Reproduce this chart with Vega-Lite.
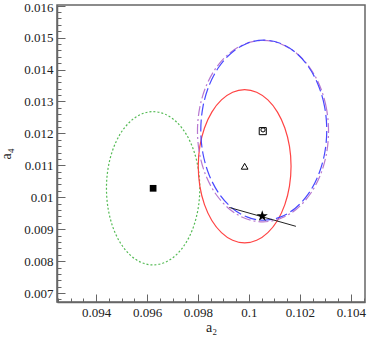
{
  "$schema": "https://vega.github.io/schema/vega-lite/v6.json",
  "width": 308,
  "height": 297,
  "autosize": "none",
  "padding": {"left": 57, "top": 5, "right": 9, "bottom": 54},
  "background": "white",
  "config": {
    "view": {"stroke": "#666", "strokeWidth": 1.5},
    "font": "Liberation Serif, Times New Roman, serif",
    "axis": {"labelFont": "Liberation Serif, Times New Roman, serif", "titleFont": "Liberation Serif, Times New Roman, serif", "labelFontSize": 13, "titleFontSize": 14, "labelColor": "#222", "titleColor": "#222", "domainColor": "#666", "domainWidth": 1.5, "tickColor": "#666", "grid": false, "titleFontWeight": "normal"}
  },
  "datasets": {
    "ell": [
      {"set": "green", "i": 0, "x": 0.09807, "y": 0.01028},
      {"set": "green", "i": 1, "x": 0.098008, "y": 0.010901},
      {"set": "green", "i": 2, "x": 0.097825, "y": 0.01148},
      {"set": "green", "i": 3, "x": 0.097534, "y": 0.011977},
      {"set": "green", "i": 4, "x": 0.097155, "y": 0.012358},
      {"set": "green", "i": 5, "x": 0.096714, "y": 0.012598},
      {"set": "green", "i": 6, "x": 0.09624, "y": 0.01268},
      {"set": "green", "i": 7, "x": 0.095766, "y": 0.012598},
      {"set": "green", "i": 8, "x": 0.095325, "y": 0.012358},
      {"set": "green", "i": 9, "x": 0.094946, "y": 0.011977},
      {"set": "green", "i": 10, "x": 0.094655, "y": 0.01148},
      {"set": "green", "i": 11, "x": 0.094472, "y": 0.010901},
      {"set": "green", "i": 12, "x": 0.09441, "y": 0.01028},
      {"set": "green", "i": 13, "x": 0.094472, "y": 0.009659},
      {"set": "green", "i": 14, "x": 0.094655, "y": 0.00908},
      {"set": "green", "i": 15, "x": 0.094946, "y": 0.008583},
      {"set": "green", "i": 16, "x": 0.095325, "y": 0.008202},
      {"set": "green", "i": 17, "x": 0.095766, "y": 0.007962},
      {"set": "green", "i": 18, "x": 0.09624, "y": 0.00788},
      {"set": "green", "i": 19, "x": 0.096714, "y": 0.007962},
      {"set": "green", "i": 20, "x": 0.097155, "y": 0.008202},
      {"set": "green", "i": 21, "x": 0.097534, "y": 0.008583},
      {"set": "green", "i": 22, "x": 0.097825, "y": 0.00908},
      {"set": "green", "i": 23, "x": 0.098008, "y": 0.009659},
      {"set": "red", "i": 0, "x": 0.10165, "y": 0.01097},
      {"set": "red", "i": 1, "x": 0.101588, "y": 0.011591},
      {"set": "red", "i": 2, "x": 0.101406, "y": 0.01217},
      {"set": "red", "i": 3, "x": 0.101117, "y": 0.012667},
      {"set": "red", "i": 4, "x": 0.10074, "y": 0.013048},
      {"set": "red", "i": 5, "x": 0.100301, "y": 0.013288},
      {"set": "red", "i": 6, "x": 0.09983, "y": 0.01337},
      {"set": "red", "i": 7, "x": 0.099359, "y": 0.013288},
      {"set": "red", "i": 8, "x": 0.09892, "y": 0.013048},
      {"set": "red", "i": 9, "x": 0.098543, "y": 0.012667},
      {"set": "red", "i": 10, "x": 0.098254, "y": 0.01217},
      {"set": "red", "i": 11, "x": 0.098072, "y": 0.011591},
      {"set": "red", "i": 12, "x": 0.09801, "y": 0.01097},
      {"set": "red", "i": 13, "x": 0.098072, "y": 0.010349},
      {"set": "red", "i": 14, "x": 0.098254, "y": 0.00977},
      {"set": "red", "i": 15, "x": 0.098543, "y": 0.009273},
      {"set": "red", "i": 16, "x": 0.09892, "y": 0.008892},
      {"set": "red", "i": 17, "x": 0.099359, "y": 0.008652},
      {"set": "red", "i": 18, "x": 0.09983, "y": 0.00857},
      {"set": "red", "i": 19, "x": 0.100301, "y": 0.008652},
      {"set": "red", "i": 20, "x": 0.10074, "y": 0.008892},
      {"set": "red", "i": 21, "x": 0.101117, "y": 0.009273},
      {"set": "red", "i": 22, "x": 0.101406, "y": 0.00977},
      {"set": "red", "i": 23, "x": 0.101588, "y": 0.010349},
      {"set": "blue", "i": 0, "x": 0.10305, "y": 0.0121},
      {"set": "blue", "i": 1, "x": 0.102966, "y": 0.01283},
      {"set": "blue", "i": 2, "x": 0.102719, "y": 0.01351},
      {"set": "blue", "i": 3, "x": 0.102327, "y": 0.014094},
      {"set": "blue", "i": 4, "x": 0.101815, "y": 0.014542},
      {"set": "blue", "i": 5, "x": 0.101219, "y": 0.014824},
      {"set": "blue", "i": 6, "x": 0.10058, "y": 0.01492},
      {"set": "blue", "i": 7, "x": 0.099941, "y": 0.014824},
      {"set": "blue", "i": 8, "x": 0.099345, "y": 0.014542},
      {"set": "blue", "i": 9, "x": 0.098833, "y": 0.014094},
      {"set": "blue", "i": 10, "x": 0.098441, "y": 0.01351},
      {"set": "blue", "i": 11, "x": 0.098194, "y": 0.01283},
      {"set": "blue", "i": 12, "x": 0.09811, "y": 0.0121},
      {"set": "blue", "i": 13, "x": 0.098194, "y": 0.01137},
      {"set": "blue", "i": 14, "x": 0.098441, "y": 0.01069},
      {"set": "blue", "i": 15, "x": 0.098833, "y": 0.010106},
      {"set": "blue", "i": 16, "x": 0.099345, "y": 0.009658},
      {"set": "blue", "i": 17, "x": 0.099941, "y": 0.009376},
      {"set": "blue", "i": 18, "x": 0.10058, "y": 0.00928},
      {"set": "blue", "i": 19, "x": 0.101219, "y": 0.009376},
      {"set": "blue", "i": 20, "x": 0.101815, "y": 0.009658},
      {"set": "blue", "i": 21, "x": 0.102327, "y": 0.010106},
      {"set": "blue", "i": 22, "x": 0.102719, "y": 0.01069},
      {"set": "blue", "i": 23, "x": 0.102966, "y": 0.01137},
      {"set": "purple", "i": 0, "x": 0.10312, "y": 0.01207},
      {"set": "purple", "i": 1, "x": 0.103032, "y": 0.012805},
      {"set": "purple", "i": 2, "x": 0.102776, "y": 0.01349},
      {"set": "purple", "i": 3, "x": 0.102367, "y": 0.014078},
      {"set": "purple", "i": 4, "x": 0.101835, "y": 0.014529},
      {"set": "purple", "i": 5, "x": 0.101215, "y": 0.014813},
      {"set": "purple", "i": 6, "x": 0.10055, "y": 0.01491},
      {"set": "purple", "i": 7, "x": 0.099885, "y": 0.014813},
      {"set": "purple", "i": 8, "x": 0.099265, "y": 0.014529},
      {"set": "purple", "i": 9, "x": 0.098733, "y": 0.014078},
      {"set": "purple", "i": 10, "x": 0.098324, "y": 0.01349},
      {"set": "purple", "i": 11, "x": 0.098068, "y": 0.012805},
      {"set": "purple", "i": 12, "x": 0.09798, "y": 0.01207},
      {"set": "purple", "i": 13, "x": 0.098068, "y": 0.011335},
      {"set": "purple", "i": 14, "x": 0.098324, "y": 0.01065},
      {"set": "purple", "i": 15, "x": 0.098733, "y": 0.010062},
      {"set": "purple", "i": 16, "x": 0.099265, "y": 0.009611},
      {"set": "purple", "i": 17, "x": 0.099885, "y": 0.009327},
      {"set": "purple", "i": 18, "x": 0.10055, "y": 0.00923},
      {"set": "purple", "i": 19, "x": 0.101215, "y": 0.009327},
      {"set": "purple", "i": 20, "x": 0.101835, "y": 0.009611},
      {"set": "purple", "i": 21, "x": 0.102367, "y": 0.010062},
      {"set": "purple", "i": 22, "x": 0.102776, "y": 0.01065},
      {"set": "purple", "i": 23, "x": 0.103032, "y": 0.011335}
    ],
    "seg": [
      {"i": 0, "x": 0.09923, "y": 0.00968},
      {"i": 1, "x": 0.10184, "y": 0.00909}
    ],
    "pts": [
      {"kind": "fsquare", "x": 0.09624, "y": 0.01028},
      {"kind": "triangle", "x": 0.09983, "y": 0.01097},
      {"kind": "osquare", "x": 0.10054, "y": 0.01207},
      {"kind": "circle", "x": 0.10055, "y": 0.01211},
      {"kind": "star", "x": 0.10052, "y": 0.00941}
    ]
  },
  "encoding": {
    "x": {"field": "x", "type": "quantitative", "title": "a₂",
      "scale": {"domain": [0.09247, 0.10455], "nice": false, "zero": false},
      "axis": {
        "values": [0.0925, 0.093, 0.0935, 0.094, 0.0945, 0.095, 0.0955, 0.096, 0.0965, 0.097, 0.0975, 0.098, 0.0985, 0.099, 0.0995, 0.1, 0.1005, 0.101, 0.1015, 0.102, 0.1025, 0.103, 0.1035, 0.104, 0.1045],
        "labelExpr": "abs(datum.value*500 - round(datum.value*500)) < 0.01 ? format(datum.value, '~g') : ''",
        "tickSize": {"condition": {"test": "abs(datum.value*500 - round(datum.value*500)) < 0.01", "value": -8}, "value": -4},
        "labelPadding": 12,
        "titlePadding": 1
      }
    },
    "y": {"field": "y", "type": "quantitative", "title": "a₄",
      "scale": {"domain": [0.00672, 0.01602], "nice": false, "zero": false},
      "axis": {
        "values": [0.0068, 0.007, 0.0072, 0.0074, 0.0076, 0.0078, 0.008, 0.0082, 0.0084, 0.0086, 0.0088, 0.009, 0.0092, 0.0094, 0.0096, 0.0098, 0.01, 0.0102, 0.0104, 0.0106, 0.0108, 0.011, 0.0112, 0.0114, 0.0116, 0.0118, 0.012, 0.0122, 0.0124, 0.0126, 0.0128, 0.013, 0.0132, 0.0134, 0.0136, 0.0138, 0.014, 0.0142, 0.0144, 0.0146, 0.0148, 0.015, 0.0152, 0.0154, 0.0156, 0.0158, 0.016],
        "labelExpr": "abs(datum.value*1000 - round(datum.value*1000)) < 0.01 ? format(datum.value, '~g') : ''",
        "tickSize": {"condition": {"test": "abs(datum.value*1000 - round(datum.value*1000)) < 0.01", "value": -8}, "value": -4},
        "labelOffset": {"condition": {"test": "datum.value > 0.0159", "value": 2}, "value": 0},
        "labelPadding": 12,
        "titleX": -44,
        "titlePadding": 4
      }
    }
  },
  "layer": [
    {"data": {"name": "ell"}, "transform": [{"filter": "datum.set === 'green'"}],
     "mark": {"type": "line", "interpolate": "cardinal-closed", "color": "#55bb55", "strokeWidth": 1.2, "strokeDash": [2, 2]},
     "encoding": {"order": {"field": "i"}}},
    {"data": {"name": "ell"}, "transform": [{"filter": "datum.set === 'red'"}],
     "mark": {"type": "line", "interpolate": "cardinal-closed", "color": "#ff4444", "strokeWidth": 1.2},
     "encoding": {"order": {"field": "i"}}},
    {"data": {"name": "ell"}, "transform": [{"filter": "datum.set === 'purple'"}],
     "mark": {"type": "line", "interpolate": "cardinal-closed", "color": "#b878d0", "strokeWidth": 1.2, "strokeDash": [10, 3, 2, 3]},
     "encoding": {"order": {"field": "i"}}},
    {"data": {"name": "ell"}, "transform": [{"filter": "datum.set === 'blue'"}],
     "mark": {"type": "line", "interpolate": "cardinal-closed", "color": "#4848ff", "strokeWidth": 1.2, "strokeDash": [12, 4]},
     "encoding": {"order": {"field": "i"}}},
    {"data": {"name": "seg"},
     "mark": {"type": "line", "color": "#222", "strokeWidth": 1},
     "encoding": {"order": {"field": "i"}}},
    {"data": {"name": "pts"}, "transform": [{"filter": "datum.kind === 'fsquare'"}],
     "mark": {"type": "point", "shape": "square", "filled": true, "color": "#000", "size": 45, "opacity": 1}},
    {"data": {"name": "pts"}, "transform": [{"filter": "datum.kind === 'triangle'"}],
     "mark": {"type": "point", "shape": "triangle-up", "filled": false, "color": "#000", "size": 45, "strokeWidth": 1, "opacity": 1}},
    {"data": {"name": "pts"}, "transform": [{"filter": "datum.kind === 'osquare'"}],
     "mark": {"type": "point", "shape": "square", "filled": false, "color": "#000", "size": 50, "strokeWidth": 1, "opacity": 1}},
    {"data": {"name": "pts"}, "transform": [{"filter": "datum.kind === 'circle'"}],
     "mark": {"type": "point", "shape": "circle", "filled": false, "color": "#000", "size": 18, "strokeWidth": 1, "opacity": 1}},
    {"data": {"name": "pts"}, "transform": [{"filter": "datum.kind === 'star'"}],
     "mark": {"type": "point", "shape": "M0,-1L0.2245,-0.309L0.951,-0.309L0.363,0.118L0.588,0.809L0,0.382L-0.588,0.809L-0.363,0.118L-0.951,-0.309L-0.2245,-0.309Z", "filled": true, "color": "#000", "size": 140, "opacity": 1}}
  ]
}
